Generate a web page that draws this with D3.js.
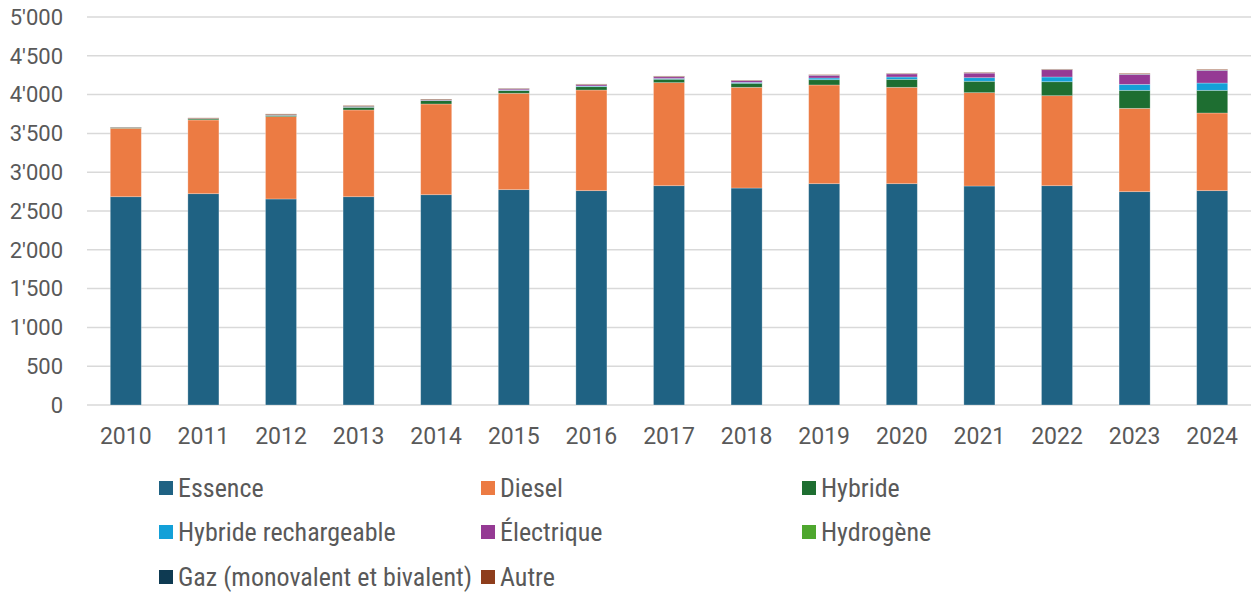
<!DOCTYPE html>
<html>
<head>
<meta charset="utf-8">
<script src="https://cdn.jsdelivr.net/npm/d3@7"></script>
<style>
  body { margin: 0; background: #fff; }
  svg text { fill: #595959; }
</style>
</head>
<body>
<svg id="chart" width="1251" height="594"></svg>
<script>
// data
var years = [2010, 2011, 2012, 2013, 2014, 2015, 2016, 2017, 2018, 2019, 2020, 2021, 2022, 2023, 2024];
var essence    = [2684, 2723, 2655, 2684, 2710, 2775, 2762, 2826, 2796, 2852, 2852, 2822, 2826, 2749, 2762];
var diesel     = [882, 950, 1061, 1118, 1169, 1242, 1297, 1328, 1298, 1272, 1242, 1203, 1160, 1074, 1001];
var hybride    = [8, 14, 15, 35, 43, 34, 43, 44, 52, 68, 103, 147, 180, 232, 292];
var rechargeable = [0, 0, 1, 2, 2, 6, 8, 10, 12, 22, 30, 46, 61, 77, 94];
var electrique = [0, 1, 2, 3, 5, 14, 17, 22, 22, 35, 40, 60, 94, 129, 164];
var hydrogene  = [0, 0, 0, 0, 0, 0, 0, 0, 0, 0, 0, 1, 1, 1, 1];
var gaz        = [5, 4, 8, 8, 7, 5, 4, 4, 3, 3, 3, 3, 3, 4, 4];
var autre      = [3, 8, 9, 9, 7, 5, 6, 6, 5, 5, 5, 6, 5, 8, 8];

var seriesNames = ["Essence", "Diesel", "Hybride", "Hybride rechargeable", "Électrique", "Hydrogène", "Gaz (monovalent et bivalent)", "Autre"];
var seriesValues = [essence, diesel, hybride, rechargeable, electrique, hydrogene, gaz, autre];
var colors = ["#1f6283", "#ec7b43", "#1e6e31", "#13a0d8", "#953a94", "#4ea72e", "#0e3a52", "#8e3d1c"];
var yTicks = [0, 500, 1000, 1500, 2000, 2500, 3000, 3500, 4000, 4500, 5000];

var svg = d3.select("#chart");
var mLeft = 87, mRight = 1251, mTop = 17, mBottom = 405;

var rows = years.map(function (y, i) {
  var r = { year: y };
  seriesNames.forEach(function (s, k) { r[s] = seriesValues[k][i]; });
  return r;
});

var stack = d3.stack().keys(seriesNames)(rows);

var x = d3.scaleBand().domain(years).range([mLeft, mRight]).paddingInner(0.6).paddingOuter(0.3);
var y = d3.scaleLinear().domain([0, 5000]).range([mBottom, mTop]);
var fmt = function (d) { return d3.format(",")(d).replace(/,/g, "'"); };

// gridlines
svg.append("g")
  .selectAll("line")
  .data(yTicks)
  .enter().append("line")
  .attr("x1", mLeft).attr("x2", mRight)
  .attr("y1", function (d) { return y(d); })
  .attr("y2", function (d) { return y(d); })
  .attr("stroke", "#d9d9d9")
  .attr("stroke-width", 1.5);

// y labels
svg.append("g")
  .selectAll("text")
  .data(yTicks)
  .enter().append("text")
  .attr("x", 63)
  .attr("y", function (d) { return y(d); })
  .attr("dy", "0.35em")
  .attr("text-anchor", "end")
  .style("font-family", "Roboto, 'Open Sans', sans-serif")
  .style("font-size", "22px")
  .text(fmt);

// bars
svg.append("g")
  .selectAll("g")
  .data(stack)
  .enter().append("g")
  .attr("fill", function (d, i) { return colors[i]; })
  .selectAll("rect")
  .data(function (d) { return d; })
  .enter().append("rect")
  .attr("x", function (d) { return x(d.data.year); })
  .attr("width", x.bandwidth())
  .attr("y", function (d) { return y(d[1]); })
  .attr("height", function (d) { return Math.max(0, y(d[0]) - y(d[1])); })
  .attr("stroke", "rgba(255,255,255,0.35)")
  .attr("stroke-width", 0.75);

// x labels
svg.append("g")
  .selectAll("text")
  .data(years)
  .enter().append("text")
  .attr("x", function (d) { return x(d) + x.bandwidth() / 2; })
  .attr("y", 436)
  .attr("dy", "0.35em")
  .attr("text-anchor", "middle")
  .style("font-family", "Roboto, 'Open Sans', sans-serif")
  .style("font-size", "23px")
  .text(function (d) { return d; });

// legend
var legendCols = [159, 481, 802];
var legendRows = [488, 532, 577];
var legend = svg.append("g")
  .selectAll("g")
  .data(seriesNames)
  .enter().append("g")
  .attr("transform", function (d, i) {
    return "translate(" + legendCols[i % 3] + "," + legendRows[Math.floor(i / 3)] + ")";
  });
legend.append("rect")
  .attr("x", 0).attr("y", -7)
  .attr("width", 14).attr("height", 14)
  .attr("fill", function (d, i) { return colors[i]; });
legend.append("text")
  .attr("x", 19)
  .attr("dy", "0.35em")
  .style("font-family", "'Liberation Sans Narrow', 'Roboto Condensed', sans-serif")
  .style("font-size", "26px")
  .text(function (d) { return d; });
</script>
</body>
</html>
